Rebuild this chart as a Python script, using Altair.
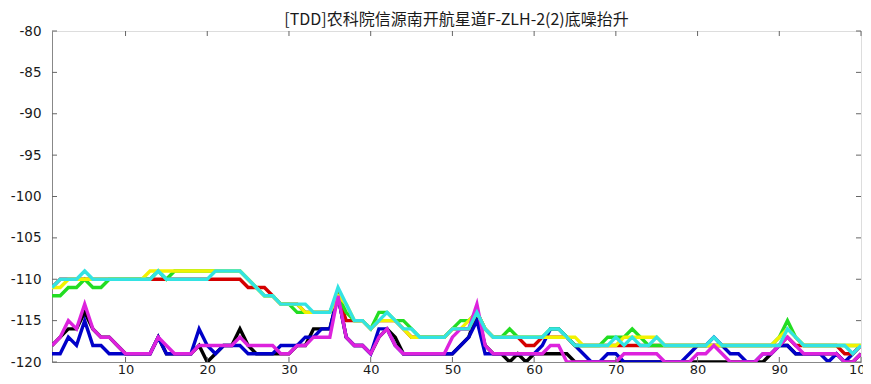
import altair as alt
import pandas as pd

X = list(range(1, 101))

cyan = [-111,-110,-110,-110,-109,-110,-110,-110,-110,-110,
        -110,-110,-110,-109,-110,-110,-110,-110,-110,-110,
        -109,-109,-109,-109,-110,-111,-112,-112,-113,-113,
        -113,-113,-114,-114,-114,-111,-113,-115,-115,-116,
        -115,-114,-115,-116,-116,-117,-117,-117,-117,-116,
        -116,-116,-114,-116,-117,-117,-117,-117,-117,-117,
        -117,-116,-116,-117,-118,-118,-118,-118,-118,-117,
        -118,-117,-118,-118,-117,-118,-118,-118,-118,-118,
        -118,-117,-118,-118,-118,-118,-118,-118,-118,-118,
        -116,-117,-118,-118,-118,-118,-118,-118,-119,-118]

green = [-112,-112,-111,-111,-110,-111,-111,-110,-110,-110,
         -110,-110,-110,-109,-110,-109,-109,-109,-109,-109,
         -109,-109,-109,-109,-110,-111,-112,-112,-113,-113,
         -114,-114,-114,-114,-114,-112,-114,-115,-115,-116,
         -114,-114,-115,-115,-116,-117,-117,-117,-117,-116,
         -115,-115,-114,-116,-117,-117,-116,-117,-117,-117,
         -117,-116,-116,-117,-118,-118,-118,-118,-117,-117,
         -117,-116,-117,-118,-118,-118,-118,-118,-118,-118,
         -118,-118,-118,-118,-118,-118,-118,-118,-118,-117,
         -115,-117,-118,-118,-118,-118,-118,-118,-118,-118]

yellow = [-111,-111,-110,-110,-110,-110,-110,-110,-110,-110,
          -110,-110,-109,-109,-109,-109,-109,-109,-109,-109,
          -109,-109,-109,-109,-110,-111,-112,-112,-113,-113,
          -113,-114,-114,-114,-114,-112,-113,-115,-115,-116,
          -115,-115,-115,-116,-117,-117,-117,-117,-117,-116,
          -116,-115,-114,-116,-117,-117,-117,-117,-117,-117,
          -117,-117,-117,-117,-117,-118,-118,-118,-118,-118,
          -117,-117,-117,-117,-117,-118,-118,-118,-118,-118,
          -118,-118,-118,-118,-118,-118,-118,-118,-118,-117,
          -116,-117,-118,-118,-118,-118,-118,-118,-118,-118]

red = [-111,-110,-110,-110,-110,-110,-110,-110,-110,-110,
       -110,-110,-110,-110,-110,-110,-110,-110,-110,-110,
       -110,-110,-110,-110,-111,-111,-111,-112,-113,-113,
       -113,-114,-114,-114,-114,-112,-115,-115,-115,-116,
       -115,-115,-115,-116,-117,-117,-117,-117,-117,-116,
       -116,-116,-114,-116,-117,-117,-117,-117,-118,-118,
       -117,-117,-117,-117,-118,-118,-118,-118,-118,-118,
       -118,-118,-118,-118,-118,-118,-118,-118,-118,-118,
       -118,-118,-118,-118,-118,-118,-118,-118,-118,-118,
       -117,-118,-118,-118,-118,-118,-118,-119,-119,-118]

black = [-118,-117,-116,-116,-114,-116,-117,-117,-118,-119,
         -119,-119,-119,-117,-119,-119,-119,-119,-118,-120,
         -119,-118,-118,-116,-118,-119,-119,-119,-119,-119,
         -118,-118,-116,-116,-116,-112,-117,-118,-118,-119,
         -117,-116,-117,-119,-119,-119,-119,-119,-119,-119,
         -118,-117,-114,-118,-119,-119,-120,-119,-120,-119,
         -119,-119,-119,-119,-120,-120,-120,-120,-120,-120,
         -120,-120,-120,-120,-120,-120,-120,-120,-120,-120,
         -120,-120,-120,-120,-120,-120,-120,-120,-119,-118,
         -118,-119,-119,-119,-119,-119,-119,-120,-120,-119]

blue = [-119,-119,-117,-118,-115,-118,-118,-119,-119,-119,
        -119,-119,-119,-117,-119,-119,-119,-119,-116,-118,
        -119,-118,-118,-118,-119,-119,-119,-119,-118,-118,
        -118,-117,-117,-116,-116,-112,-117,-118,-118,-119,
        -116,-116,-118,-119,-119,-119,-119,-119,-119,-119,
        -118,-117,-115,-119,-119,-119,-119,-119,-119,-119,
        -118,-116,-116,-117,-118,-119,-120,-120,-119,-119,
        -120,-120,-120,-120,-120,-120,-120,-120,-119,-118,
        -118,-117,-118,-119,-119,-120,-120,-119,-119,-118,
        -118,-119,-119,-119,-119,-120,-119,-120,-119,-118]

magenta = [-118,-117,-115,-116,-113,-116,-117,-117,-118,-119,
           -119,-119,-119,-117,-118,-119,-119,-119,-118,-118,
           -118,-118,-118,-117,-118,-118,-118,-118,-119,-119,
           -118,-118,-117,-117,-117,-112,-117,-118,-118,-119,
           -117,-116,-118,-119,-119,-119,-119,-119,-119,-117,
           -116,-116,-113,-118,-119,-119,-119,-119,-119,-119,
           -119,-118,-118,-120,-120,-120,-120,-120,-120,-120,
           -119,-119,-119,-119,-119,-120,-120,-120,-120,-119,
           -119,-118,-119,-120,-120,-120,-120,-119,-119,-118,
           -117,-118,-119,-119,-119,-119,-119,-120,-120,-119]

series = [
    ("black", black, "#000000"),
    ("blue", blue, "#0000c8"),
    ("red", red, "#d40000"),
    ("green", green, "#22dd22"),
    ("yellow", yellow, "#f2f200"),
    ("magenta", magenta, "#dd22dd"),
    ("cyan", cyan, "#33e3e3"),
]

x_ticks = [10, 20, 30, 40, 50, 60, 70, 80, 90, 100]
y_ticks = [-120, -115, -110, -105, -100, -95, -90, -85, -80]

TITLE = "[TDD]农科院信源南开航星道F-ZLH-2(2)底噪抬升"

W, H = 809, 331
xs = alt.Scale(domain=[1, 100], nice=False, zero=False)
ys = alt.Scale(domain=[-120, -80], nice=False, zero=False)

axis_common = dict(
    grid=False, ticks=False, domainColor="#888888", domainWidth=1,
    labelFont="DejaVu Sans", labelColor="#1a1a1a",
    title=None,
)
x_axis = alt.Axis(values=x_ticks, labelPadding=1, labelFlush=False, labelFontSize=13,
                  labelExpr="format(datum.value, 'd')", **axis_common)
y_axis = alt.Axis(values=y_ticks, labelPadding=11, labelFlush=False, labelFontSize=13.5,
                  labelExpr="'-' + format(abs(datum.value), 'd')", **axis_common)

layers = []
for name, vals, col in series:
    df = pd.DataFrame({"x": X, "v": vals})
    layers.append(
        alt.Chart(df).mark_line(color=col, strokeWidth=3.4, clip=True).encode(
            x=alt.X("x:Q", scale=xs, axis=x_axis),
            y=alt.Y("v:Q", scale=ys, axis=y_axis),
        )
    )

xt = pd.DataFrame({"x": x_ticks})
yt = pd.DataFrame({"v": y_ticks})
tick_col = "#666666"
layers.append(alt.Chart(xt).mark_rule(color=tick_col, strokeWidth=1).encode(
    x=alt.X("x:Q", scale=xs, axis=x_axis), y=alt.value(H), y2=alt.value(H - 5)))
layers.append(alt.Chart(xt).mark_rule(color=tick_col, strokeWidth=1).encode(
    x=alt.X("x:Q", scale=xs, axis=x_axis), y=alt.value(0), y2=alt.value(5)))
layers.append(alt.Chart(yt).mark_rule(color=tick_col, strokeWidth=1).encode(
    y=alt.Y("v:Q", scale=ys, axis=y_axis), x=alt.value(0), x2=alt.value(5)))
layers.append(alt.Chart(yt).mark_rule(color=tick_col, strokeWidth=1).encode(
    y=alt.Y("v:Q", scale=ys, axis=y_axis), x=alt.value(W), x2=alt.value(W - 5)))

chart = alt.layer(*layers).properties(
    width=W, height=H,
    title=alt.TitleParams(TITLE, fontSize=16, font="Noto Sans CJK SC", fontWeight="normal",
                          color="#1a1a1a", anchor="middle", offset=3, dy=7),
    autosize=alt.AutoSizeParams(type="none"),
    padding={"left": 44, "top": 23, "right": 2, "bottom": 14},
).configure_view(stroke="#888888", strokeWidth=1).configure(background="white")

chart.save("out.html", embed_options={"renderer": "svg", "actions": False})
